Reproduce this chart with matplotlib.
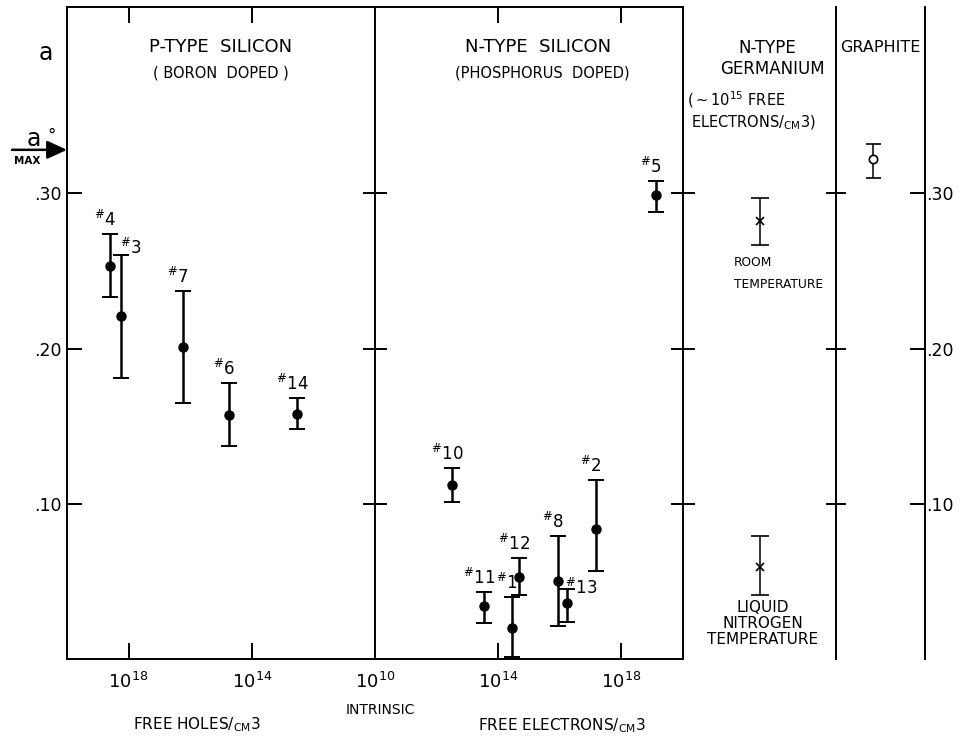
import matplotlib
matplotlib.use('Agg')
import matplotlib.pyplot as plt
from matplotlib.ticker import NullLocator

plt.rcParams['font.family'] = 'DejaVu Sans'
plt.rcParams['mathtext.default'] = 'regular'

# ---- data ---------------------------------------------------------------
# P-type silicon (boron doped): free holes / cm^3, absorption a with error bar
p_ids = ['4', '3', '7', '6', '14']
p_conc = [10**18.60, 10**18.25, 10**16.23, 10**14.74, 10**12.53]
p_a = [0.253, 0.221, 0.201, 0.157, 0.158]
p_hi = [0.274, 0.260, 0.237, 0.178, 0.168]
p_lo = [0.233, 0.181, 0.165, 0.137, 0.148]

# N-type silicon (phosphorus doped): free electrons / cm^3
n_ids = ['10', '11', '1', '12', '8', '13', '2', '5']
n_conc = [10**12.50, 10**13.54, 10**14.45, 10**14.68, 10**15.94,
          10**16.23, 10**17.18, 10**19.12]
n_a = [0.112, 0.034, 0.020, 0.053, 0.050, 0.036, 0.084, 0.299]
n_hi = [0.123, 0.043, 0.040, 0.065, 0.079, 0.045, 0.115, 0.308]
n_lo = [0.101, 0.023, 0.001, 0.041, 0.021, 0.024, 0.057, 0.288]

# N-type germanium, room temp and liquid nitrogen temp
ge_labels = ['ROOM\nTEMPERATURE', 'LIQUID\nNITROGEN\nTEMPERATURE']
ge_a = [0.282, 0.059]
ge_hi = [0.297, 0.079]
ge_lo = [0.267, 0.041]

# graphite
gr_a = [0.322]
gr_hi = [0.332]
gr_lo = [0.310]

a_max = 0.328
y_ticks = [0.10, 0.20, 0.30]
y_ticklabels = ['.10', '.20', '.30']

# ---- layout (pixels) ----------------------------------------------------
W, H = 961, 746
fig = plt.figure(figsize=(W / 100, H / 100), dpi=100)
fig.patch.set_facecolor('white')


def px_axes(x0, x1, y0=7, y1=659):
    return fig.add_axes([x0 / W, 1 - y1 / H, (x1 - x0) / W, (y1 - y0) / H])


def ftext(x, y, s, **kw):
    kw.setdefault('ha', 'center')
    kw.setdefault('va', 'center')
    return fig.text(x / W, 1 - y / H, s, **kw)


ax1 = px_axes(67, 375)
ax2 = px_axes(375, 683)
ax3 = px_axes(683, 836)
ax4 = px_axes(836, 925)

LW = 1.4
for ax in (ax1, ax2, ax3, ax4):
    ax.set_ylim(0, 0.42)
    ax.set_yticks(y_ticks)
    for sp in ax.spines.values():
        sp.set_linewidth(LW)
    ax.patch.set_alpha(0)

# log axes for the two silicon panels
ax1.set_xscale('log')
ax1.set_xlim(1e20, 1e10)
ax1.set_xticks([1e18, 1e14])
ax2.set_xscale('log')
ax2.set_xlim(1e10, 1e20)
ax2.set_xticks([1e10, 1e14, 1e18])
for ax in (ax1, ax2):
    ax.xaxis.set_minor_locator(NullLocator())
    ax.tick_params(axis='x', direction='in', length=11.5, width=LW,
                   top=True, labelsize=13, pad=9)
t0 = ax2.xaxis.get_major_ticks()[0]
t0.tick1line.set_visible(False)
t0.tick2line.set_visible(False)

ax1.set_yticklabels(y_ticklabels)
ax1.tick_params(axis='y', direction='in', length=11, width=LW,
                labelsize=12.5, pad=4)
ax1.spines['right'].set_visible(False)

ax2.tick_params(axis='y', direction='inout', left=True, right=True,
                labelleft=False, length=17.5, width=LW)

for ax in (ax3, ax4):
    ax.set_xlim(0, 1)
    ax.set_xticks([])
    for s in ('left', 'top', 'bottom'):
        ax.spines[s].set_visible(False)
ax3.tick_params(axis='y', direction='inout', left=False, right=True,
                labelleft=False, length=14.5, width=LW)
ax4.set_yticklabels(y_ticklabels)
ax4.tick_params(axis='y', direction='in', left=False, right=True,
                labelleft=False, labelright=True, length=10.8, width=LW,
                labelsize=12.5, pad=1)

# ---- data marks ---------------------------------------------------------
def errs(a, lo, hi):
    return [[v - l for v, l in zip(a, lo)], [h - v for v, h in zip(a, hi)]]


si_style = dict(fmt='o', color='black', ms=6.5, lw=1.8, capsize=6.1,
                capthick=1.4, clip_on=False)
ax1.errorbar(p_conc, p_a, yerr=errs(p_a, p_lo, p_hi), **si_style)
ax2.errorbar(n_conc, n_a, yerr=errs(n_a, n_lo, n_hi), **si_style)

ge_x = [0.5, 0.5]
ax3.errorbar(ge_x, ge_a, yerr=errs(ge_a, ge_lo, ge_hi), fmt='x', color='black',
             ms=6, mew=1.2, lw=1.1, capsize=6.8, capthick=1.1)
ax4.errorbar([0.42], gr_a, yerr=errs(gr_a, gr_lo, gr_hi), fmt='o',
             mfc='white', mec='black', color='black', ms=6, mew=1.2,
             lw=1.1, capsize=5.4, capthick=1.1)

# sample tags "#N" above each bar
tag_shift = {'3': (10, -3), '13': (14, -9)}


def tag(ax, xs, tops, ids):
    for x, t, s in zip(xs, tops, ids):
        dx, dy = tag_shift.get(s, (-5, 4))
        ax.annotate(r'$^{\#}$' + s, (x, t), xytext=(dx, dy),
                    textcoords='offset pixels', ha='center', va='bottom',
                    fontsize=12, annotation_clip=False)


tag(ax1, p_conc, p_hi, p_ids)
tag(ax2, n_conc, n_hi, n_ids)

# germanium condition labels
ax3.annotate(ge_labels[0], (ge_x[0], ge_lo[0]), xytext=(-26, -11),
             textcoords='offset pixels', ha='left', va='top', fontsize=8.8,
             multialignment='left', linespacing=1.9)
ax3.annotate(ge_labels[1], (ge_x[1], ge_lo[1]), xytext=(3, -5),
             textcoords='offset pixels', ha='center', va='top', fontsize=11,
             multialignment='center', linespacing=1.08)

# ---- text ---------------------------------------------------------------
ftext(221, 47, 'P-TYPE  SILICON', fontsize=13)
ftext(221, 73, '( BORON  DOPED )', fontsize=10.5)
ftext(538, 47, 'N-TYPE  SILICON', fontsize=13)
ftext(542, 73, '(PHOSPHORUS  DOPED)', fontsize=10.5)
ftext(767, 48, 'N-TYPE', fontsize=12)
ftext(772, 69, 'GERMANIUM', fontsize=12)
ftext(687, 100, r'($\sim$10$^{15}$ FREE', fontsize=10.5, ha='left')
ftext(691, 123, 'ELECTRONS/$_{CM}$3)', fontsize=10.5, ha='left')
ftext(880, 48, 'GRAPHITE', fontsize=11.5)

ftext(46, 53, 'a', fontsize=17)
ftext(34, 139, 'a', fontsize=17)
ftext(52, 136, '°', fontsize=12)
ftext(27, 161, 'MAX', fontsize=7.5, fontweight='bold')
ax1.annotate('', xy=(0, a_max), xycoords=ax1.get_yaxis_transform(),
             xytext=(-55, 0), textcoords='offset pixels',
             arrowprops=dict(arrowstyle='-|>,head_length=1.2,head_width=0.55',
                             color='black', lw=1.8, shrinkA=0, shrinkB=0),
             annotation_clip=False)

ftext(380, 710, 'INTRINSIC', fontsize=10)
ftext(133, 725, 'FREE HOLES/$_{CM}$3', fontsize=11, ha='left')
ftext(478, 726, 'FREE ELECTRONS/$_{CM}$3', fontsize=11, ha='left')

fig.savefig('out.png', dpi=100, facecolor='white')
